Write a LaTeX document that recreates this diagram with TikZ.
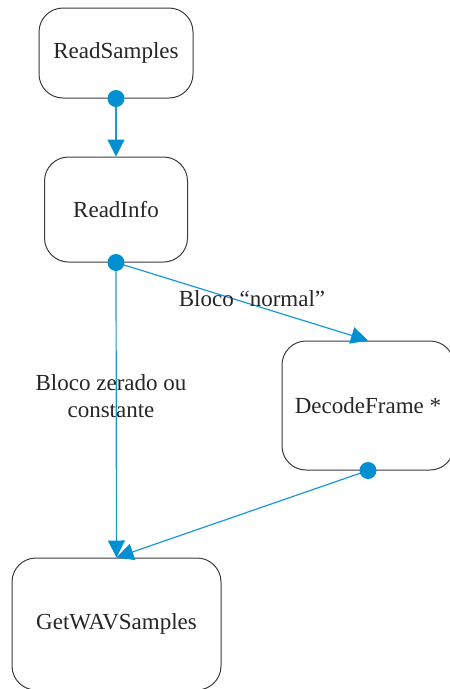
\documentclass[tikz,border=0pt]{standalone}
\usepackage{fontspec}
\setmainfont{Liberation Serif}
\usetikzlibrary{arrows.meta}
\definecolor{flowblue}{HTML}{1A98D5}
\definecolor{dotblue}{HTML}{0090D2}
\definecolor{boxline}{HTML}{3C3C3C}
\begin{document}
\begin{tikzpicture}[x=1pt,y=-1pt,
  proc/.style={draw=boxline, line width=1pt, rounded corners=24pt,
    align=center, inner sep=0pt, font=\fontsize{23}{27}\selectfont, text=black!85},
  flow/.style={draw=flowblue, line width=1.2pt,
    -{Triangle[length=17pt,width=17pt,color=dotblue]}},
  lbl/.style={align=center, font=\fontsize{23}{27}\selectfont, text=black!85, inner sep=0pt},
  pin/.style={circle, fill=dotblue, minimum size=17pt, inner sep=0pt}]
\useasboundingbox (0,0) rectangle (450,689);

% process boxes
\node[proc, minimum width=154pt, minimum height=90pt]  (rs) at (116,53)    {ReadSamples};
\node[proc, minimum width=143pt, minimum height=105pt] (ri) at (116,209.5) {ReadInfo};
\node[proc, minimum width=172pt, minimum height=129pt] (df) at (368,405.5) {DecodeFrame *};
\node[proc, minimum width=209pt, minimum height=132pt] (gw) at (116.5,624) {GetWAVSamples};

% connectors
\draw[flow] (rs.south) -- (ri.north);
\draw[flow] (ri.south) -- (df.north);
\draw[flow] (ri.south) -- (gw.north);
\draw[flow] (df.south) -- (gw.north);

% source dots
\node[pin] (p1) at (rs.south) {};
\node[pin] (p2) at (ri.south) {};
\node[pin] (p3) at (df.south) {};

% connector labels
\node[lbl] (l1) at (252,299) {Bloco “normal”};
\node[lbl] (l2) at (111,396) {Bloco zerado ou\\constante};
\end{tikzpicture}
\end{document}
